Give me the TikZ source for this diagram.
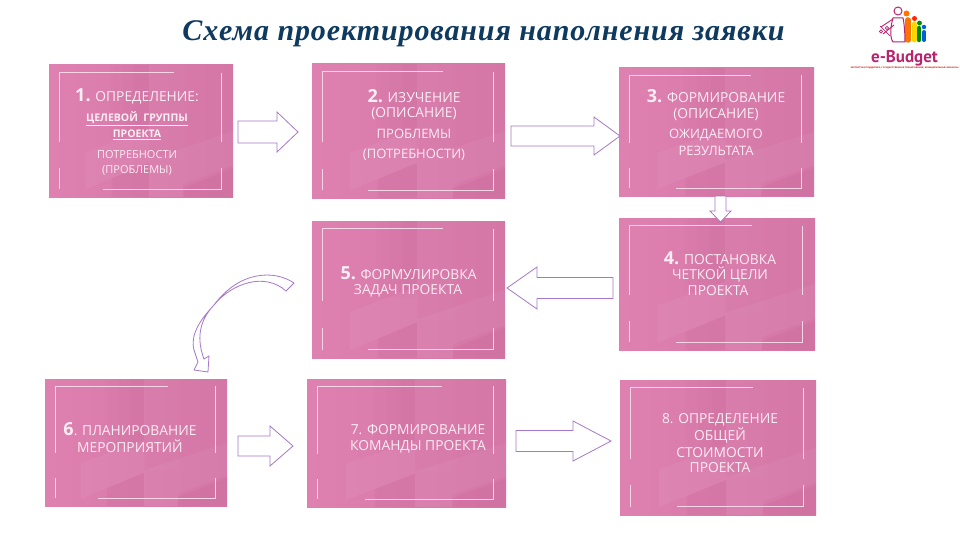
\documentclass[tikz,border=0pt]{standalone}
\usepackage{fontspec}
\setmainfont{Open Sans}
\newfontfamily\titlefont[LetterSpace=3]{Liberation Serif}
\newfontfamily\logofont{PT Sans}
\newfontfamily\logosmall{Liberation Sans}
\usetikzlibrary{calc}
\definecolor{boxL}{HTML}{DE80B0}
\definecolor{boxR}{HTML}{D476A6}
\definecolor{shadeC}{HTML}{B0507F}
\definecolor{frameC}{HTML}{F6D6E6}
\definecolor{arrowC}{HTML}{A678C8}
\definecolor{titleC}{HTML}{0E3A5F}
\definecolor{txtC}{HTML}{FBEDF4}
\definecolor{logoM}{HTML}{B8246E}
\tikzset{
  pinkbg/.style={inner sep=0pt,outer sep=0pt,anchor=north west,left color=boxL,right color=boxR,draw=none},
  framepart/.style={draw=frameC,line width=0.9pt},
  blockarrow/.style={draw=arrowC,line width=0.8pt,fill=white,line join=miter},
  line/.style={text=txtC,inner sep=0pt,yshift=-1.5pt,align=center,font=\fontsize{13.8}{15}\selectfont},
  minor/.style={line,font=\fontsize{13}{15}\selectfont},
  strong/.style={line,font=\fontsize{10.5}{12}\selectfont\bfseries},
  figbody/.style={line width=5.5pt,line cap=round},
  lightpart/.style={fill=white,opacity=.05},
  darkpart/.style={fill=shadeC,opacity=.10},
  faintdark/.style={fill=shadeC,opacity=.03},
}
\newcommand{\num}[1]{{\fontsize{18}{18}\selectfont\bfseries #1}}
\newcommand{\pinkbox}[5]{%
  \pgfmathsetmacro{\bw}{#4-#2}\pgfmathsetmacro{\bh}{#5-#3}%
  \node[pinkbg,minimum width=\bw pt,minimum height=\bh pt] (#1) at (#2,#3) {};
  \begin{scope}[shift={(#2,#3)},x=\bw pt,y=-\bh pt]
    \fill[faintdark] (.33,0) rectangle (.543,.56);
    \fill[faintdark] (.40,0) rectangle (.543,.52);
    \fill[faintdark] (.47,0) rectangle (.543,.50);
    \fill[white,opacity=.02] (.543,0) rectangle (.73,.72);
    \fill[lightpart] (.197,.663) -- (.543,.48) -- (.543,.74) -- (.197,.944) -- cycle;
    \fill[darkpart] (.34,.86) -- (.543,.74) -- (.543,1) -- (.34,1) -- cycle;
    \fill[lightpart] (.543,.72) -- (1,.5) -- (1,.76) -- (.73,.9) -- (.73,1) -- (.543,1) -- cycle;
    \fill[darkpart] (.73,.93) -- (1,.78) -- (1,1) -- (.73,1) -- cycle;
    \draw[framepart] (.055,.585) -- (.055,.057) -- (.677,.057);
    \draw[framepart] (.938,.057) -- (.938,.585);
    \draw[framepart] (.055,.78) -- (.055,.94);
    \draw[framepart] (.292,.94) -- (.938,.94) -- (.938,.78);
  \end{scope}
}
% #1 name, #2 tail x, #3 head base x, #4 tip x, #5 y, #6 shaft half, #7 head half
\newcommand{\harrow}[7]{%
  \coordinate (#1t) at (#2,#5); \coordinate (#1h) at (#4,#5);
  \draw[blockarrow] ($(#1t)+(0,-#6)$) -- (#3,#5-#6) -- (#3,#5-#7) -- (#1h) -- (#3,#5+#7) -- (#3,#5+#6) -- ($(#1t)+(0,#6)$) -- cycle;
}
\begin{document}
\begin{tikzpicture}[x=1pt,y=-1pt]
\useasboundingbox[fill=white] (0,0) rectangle (960,540);

\node[inner sep=0pt,text=titleC,font=\fontsize{30}{32}\titlefont\bfseries\itshape\selectfont] (title) at (483.5,34) {Схема проектирования наполнения заявки};

\pinkbox{b1}{49}{65}{233}{197}
\pinkbox{b2}{312}{64}{505}{198}
\pinkbox{b3}{619}{68}{814}{196}
\pinkbox{b4}{619}{218}{815}{350}
\pinkbox{b5}{312}{221}{505}{358}
\pinkbox{b6}{45}{379}{227}{506}
\pinkbox{b7}{307}{379}{506}{507}
\pinkbox{b8}{620}{380}{816}{515}

% box 1
\node[line] (t11) at (137,95) {\num{1.} ОПРЕДЕЛЕНИЕ:};
\node[strong] (t12) at (137,117) {\underline{ЦЕЛЕВОЙ\ \ ГРУППЫ}};
\node[strong] (t13) at (137,133) {\underline{ПРОЕКТА}};
\node[line,font=\fontsize{11}{12}\selectfont] (t14) at (137,153) {ПОТРЕБНОСТИ};
\node[line,font=\fontsize{11}{12}\selectfont] (t15) at (137,169) {(ПРОБЛЕМЫ)};
% box 2
\node[line] (t21) at (414,95) {\num{2.} ИЗУЧЕНИЕ};
\node[line] (t22) at (414,112) {(ОПИСАНИЕ)};
\node[minor] (t23) at (414,132) {ПРОБЛЕМЫ};
\node[minor] (t24) at (414,153) {(ПОТРЕБНОСТИ)};
% box 3
\node[line] (t31) at (716,95) {\num{3.} ФОРМИРОВАНИЕ};
\node[line] (t32) at (716,113) {(ОПИСАНИЕ)};
\node[minor] (t33) at (716,133) {ОЖИДАЕМОГО};
\node[minor] (t34) at (716,149) {РЕЗУЛЬТАТА};
% box 4
\node[line] (t41) at (720,257) {\num{4.} ПОСТАНОВКА};
\node[line] (t42) at (720,273) {ЧЕТКОЙ ЦЕЛИ};
\node[line] (t43) at (718,289) {ПРОЕКТА};
% box 5
\node[line] (t51) at (408.5,272) {\num{5.} ФОРМУЛИРОВКА};
\node[line] (t52) at (408,289.5) {ЗАДАЧ ПРОЕКТА};
% box 6
\node[line] (t61) at (130,428) {\num{6}. ПЛАНИРОВАНИЕ};
\node[line] (t62) at (130,445) {МЕРОПРИЯТИЙ};
% box 7
\node[line] (t71) at (418,428) {7. ФОРМИРОВАНИЕ};
\node[line] (t72) at (418,445) {КОМАНДЫ ПРОЕКТА};
% box 8
\node[line] (t81) at (720,418) {8. ОПРЕДЕЛЕНИЕ};
\node[line] (t82) at (720,434) {ОБЩЕЙ};
\node[line] (t83) at (720,451) {СТОИМОСТИ};
\node[line] (t84) at (720,466) {ПРОЕКТА};

% straight block arrows
\harrow{a12}{238}{277}{298}{132}{11}{20}
\harrow{a23}{511}{594}{620}{136}{10}{19}
\harrow{a45}{613}{537}{507}{288}{10.5}{21}
\harrow{a67}{238}{270}{293}{446}{10}{20}
\harrow{a78}{516}{573}{611}{441}{10.5}{20}
\draw[blockarrow] (715,196) -- (726,196) -- (726,211) -- (731,211) -- (720.5,222) -- (710,211) -- (715,211) -- cycle;
% curved block arrow
\draw[blockarrow] (294,283) .. controls (275,270) and (240,270) .. (214,305)
  .. controls (200,320) and (190,335) .. (194,350) -- (198,362) -- (194,370) -- (208,372) -- (209,356) -- (204,359)
  .. controls (197,340) and (198,322) .. (214,305)
  .. controls (232,283) and (265,272) .. (286,291) -- cycle;

% logo
\begin{scope}
  \draw[figbody,blue!55!cyan!85!black,line width=4pt] (924,32) -- (924,40);
  \fill[blue!55!cyan!85!black] (924,27) circle (2.2);
  \draw[figbody,green!55!black,line width=4.5pt] (919,28) -- (919,40);
  \fill[green!55!black] (919.5,23) circle (2.4);
  \draw[figbody,yellow!75!orange,line width=5pt] (914,24) -- (914,40);
  \fill[red!70!orange] (914.5,18.5) circle (2.5);
  \draw[figbody,orange!90!red] (908,20) -- (908,40);
  \fill[orange!90!red] (906.5,13.5) circle (3);
  \draw[logoM,line width=1pt,fill=white] (893,18) .. controls (890,28) and (890,38) .. (893,42) -- (905,42) .. controls (905,32) and (904,22) .. (903,18) -- cycle;
  \draw[logoM,line width=1pt,fill=white] (898,11) circle (4);
  \draw[logoM,line width=.9pt] (893,19) -- (881,27) (894,25) -- (883,34);
  \draw[logoM,line width=.7pt] (880,26) -- (890,36) (881,31.5) circle (1.6) (887,28) circle (1.6);
\end{scope}
\node[inner sep=0pt,text=logoM,font=\fontsize{17}{18}\logofont\bfseries\selectfont] (logoname) at (904.5,58) {e-Budget};
\node[inner sep=0pt,text=red!80!black,font=\fontsize{2.2}{3}\logosmall\bfseries\selectfont] (logosub) at (904.5,68) {ЭКСПЕРТНАЯ ПОДДЕРЖКА, ГОСУДАРСТВЕННОЕ ПЛАНИРОВАНИЕ, МУНИЦИПАЛЬНЫЕ ФИНАНСЫ};
\end{tikzpicture}
\end{document}
